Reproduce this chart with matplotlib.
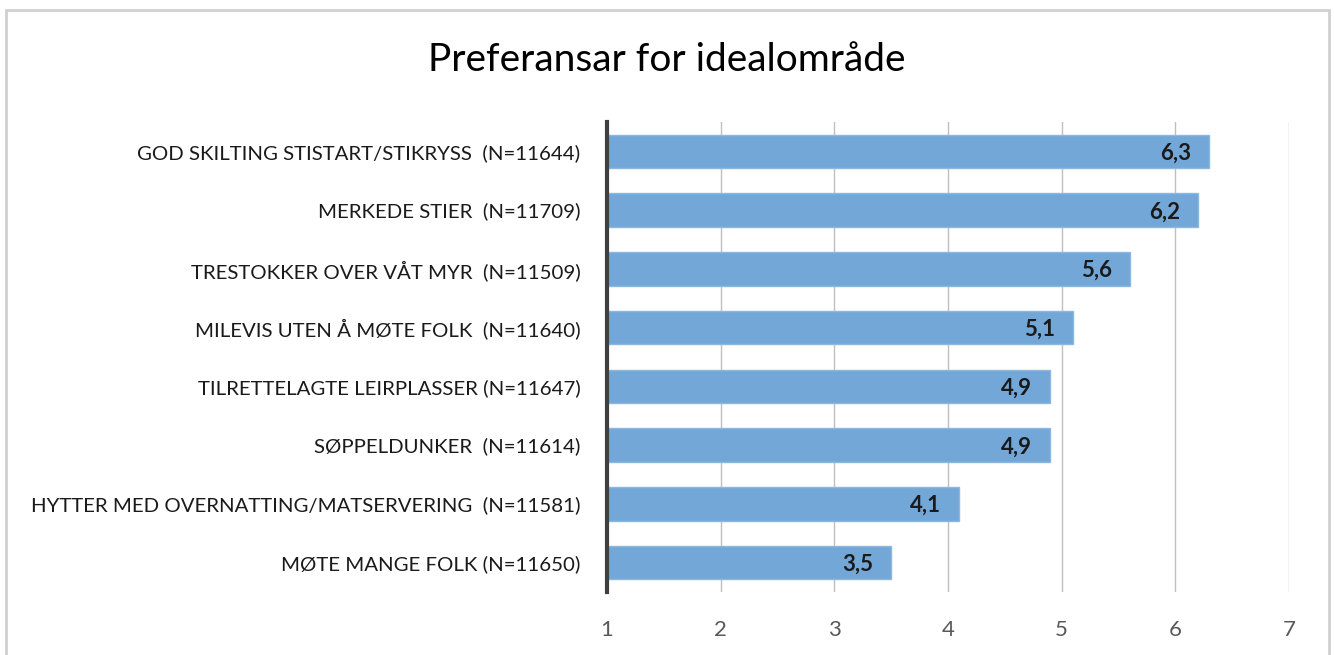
import matplotlib
matplotlib.use('Agg')
import matplotlib.pyplot as plt
from matplotlib.patches import Rectangle

# data
categories = [
    'GOD SKILTING STISTART/STIKRYSS  (N=11644)',
    'MERKEDE STIER  (N=11709)',
    'TRESTOKKER OVER VÅT MYR  (N=11509)',
    'MILEVIS UTEN Å MØTE FOLK  (N=11640)',
    'TILRETTELAGTE LEIRPLASSER (N=11647)',
    'SØPPELDUNKER  (N=11614)',
    'HYTTER MED OVERNATTING/MATSERVERING  (N=11581)',
    'MØTE MANGE FOLK (N=11650)',
]
values = [6.3, 6.2, 5.6, 5.1, 4.9, 4.9, 4.1, 3.5]
value_labels = ['6,3', '6,2', '5,6', '5,1', '4,9', '4,9', '4,1', '3,5']
xticks = [1, 2, 3, 4, 5, 6, 7]

plt.rcParams['font.family'] = ['Lato', 'DejaVu Sans']

fig = plt.figure(figsize=(13.34, 6.55), dpi=100)
ax = fig.add_axes([0.455, 0.0962, 0.9663 - 0.455, 0.8137 - 0.0962])

ypos = list(range(len(categories)))
widths = [v - 1 for v in values]
ax.barh(ypos, widths, left=1, height=0.57, color='#72A7D8', edgecolor='#8DB8E0',
        linewidth=1, zorder=3)

for y, v, lab in zip(ypos, values, value_labels):
    ax.text(v - 0.16, y + 0.03, lab, ha='right', va='center', fontsize=16,
            fontweight='bold', color='#1a1a1a', zorder=4)

ax.set_xlim(1, 7)
ax.set_ylim(len(categories) - 0.5, -0.5)
ax.set_xticks(xticks)
ax.set_xticklabels([str(t) for t in xticks], fontsize=16, color='#595959')
ax.set_yticks(ypos)
ax.set_yticklabels(categories, fontsize=14.7, color='#1a1a1a')
ax.tick_params(axis='x', length=0, pad=20)
ax.tick_params(axis='y', length=0, pad=19)

ax.grid(axis='x', color='#BFBFBF', linewidth=1, zorder=0)
for s in ['top', 'right', 'bottom']:
    ax.spines[s].set_visible(False)
ax.spines['left'].set_color('#404040')
ax.spines['left'].set_linewidth(3)
ax.spines['left'].set_zorder(5)

fig.text(0.5, 0.908, 'Preferansar for idealområde', ha='center', va='center',
         fontsize=28, color='#000000')

# frame round the chart
fig.patches.append(Rectangle((6 / 1334, -0.05), (1329 - 6) / 1334, 1.05 - 10 / 655,
                             transform=fig.transFigure, fill=False,
                             edgecolor='#D0D0D0', linewidth=2))

fig.savefig('out.png', dpi=100)
